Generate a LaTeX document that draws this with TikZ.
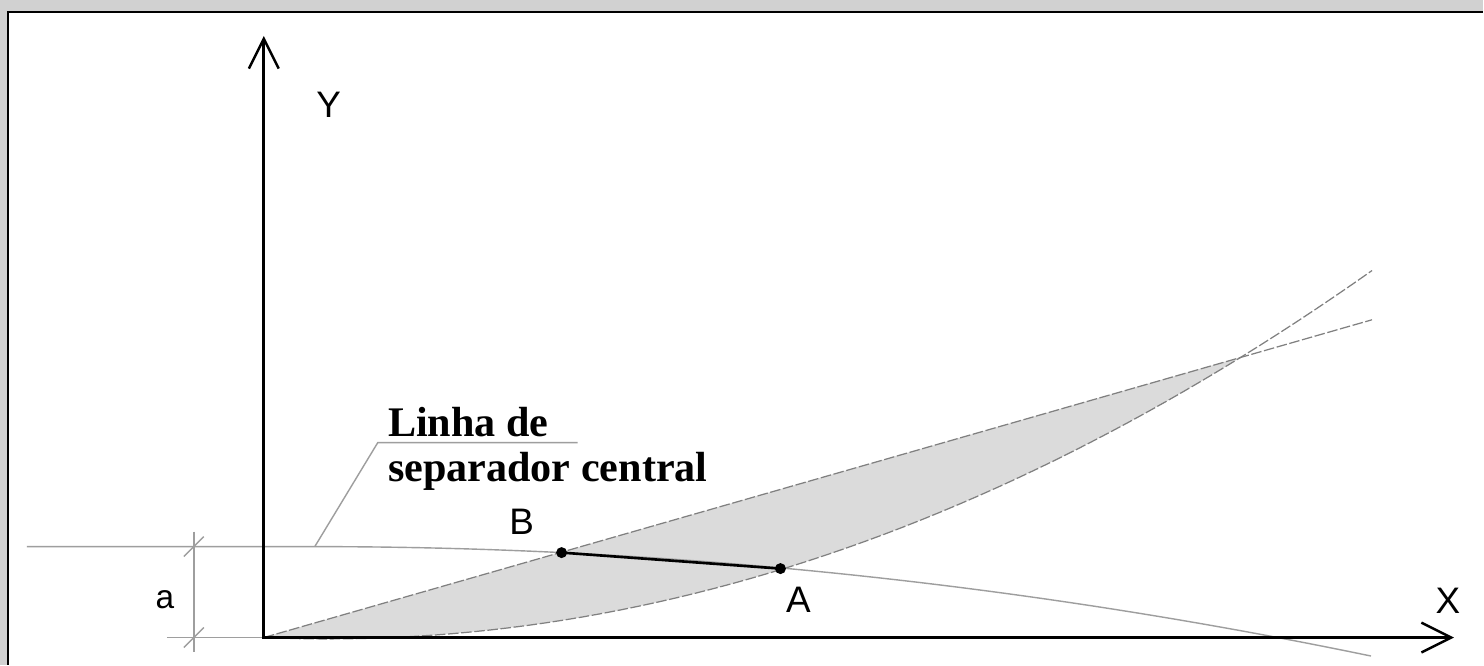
\documentclass[tikz,border=0pt]{standalone}
\usepackage{fontspec}
\setmainfont{Liberation Serif}
\setsansfont{Liberation Sans}
\usetikzlibrary{arrows.meta}
\begin{document}
\begin{tikzpicture}[x=0.2mm,y=-0.2mm,
  axis/.style={line width=1.6pt,line join=miter,{Straight Barb[length=17pt,width=17pt,line width=1.4pt]}-{Straight Barb[length=17pt,width=17pt,line width=1.4pt]}},
  guide/.style={draw=black!38,line width=0.8pt},
  curve/.style={draw=black!50,line width=0.7pt,dash pattern=on 6pt off 1.5pt},
  lbl/.style={font=\sffamily\fontsize{21}{21}\selectfont},
  note/.style={font=\bfseries\fontsize{24}{26}\selectfont,anchor=base west,inner sep=0pt}]
\fill[black!18] (0,0) rectangle (1484,665);
\fill[white] (8,12) rectangle (1484,665);
\draw[line width=1.2pt] (8,665) -- (8,12) -- (1484,12);
\useasboundingbox (0,0) rectangle (1484,665);

\coordinate (O) at (264,638);
\coordinate (C) at (1243,357);
\coordinate (U) at (1373,320);
\coordinate (B) at (562,553);
\coordinate (A) at (781,569);
\coordinate (ytip) at (264,36);
\coordinate (xtip) at (1455,638);

\fill[black!14] (O) -- (C) -- plot[domain=1243:264,samples=50] (\x,{638-3.374*((\x-264)/100)^2+4.3*((\x-264)/100)}) -- cycle;
\draw[curve] (O) -- (U);
\draw[curve] plot[domain=264:1373,samples=60] (\x,{638-3.374*((\x-264)/100)^2+4.3*((\x-264)/100)});

\draw[guide] (27,547) -- (315,547) -- plot[domain=315:1372,samples=50] (\x,{547+0.98*((\x-315)/100)^2});
\draw[guide] (315,547) -- (378,443) -- (578,443);
\node[note] (linha) at (388,437) {Linha de};
\node[note] (separador) at (388,482) {separador central};

\draw[guide] (194,532) -- (194,652);
\draw[guide] (167,638) -- (O);
\foreach \y in {547,638} {\draw[guide] (184,\y+10) -- (204,\y-10);}
\node[lbl,font=\sffamily\fontsize{19}{19}\selectfont] (dima) at (165,600) {a};

\draw[axis] (ytip) -- (O) -- (xtip);
\node[lbl] (ylabel) at (329,105) {Y};
\node[lbl] (xlabel) at (1449,601) {X};

\draw[line width=1.5pt] (B) -- (A);
\fill (B) circle[radius=5.5];
\fill (A) circle[radius=5.5];
\node[lbl] (blabel) at (522,522) {B};
\node[lbl] (alabel) at (799,600) {A};
\end{tikzpicture}
\end{document}
